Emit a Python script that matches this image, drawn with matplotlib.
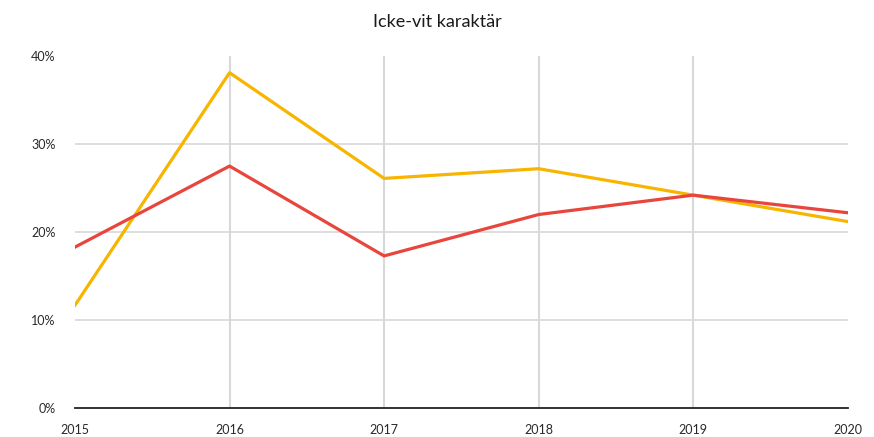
import matplotlib
matplotlib.use("Agg")
import matplotlib.pyplot as plt
from matplotlib.ticker import PercentFormatter

plt.rcParams["font.family"] = ["Lato", "DejaVu Sans"]

YEARS = [2015, 2016, 2017, 2018, 2019, 2020]
YELLOW = [11.7, 38.1, 26.1, 27.2, 24.2, 21.2]
RED = [18.3, 27.5, 17.3, 22.0, 24.2, 22.2]
YTICKS = [0, 10, 20, 30, 40]

fig = plt.figure(figsize=(8.74, 4.37), dpi=100)
ax = fig.add_axes([0.0858, 0.0657, 0.8842, 0.8062])

# grid: horizontal lines at 10/20/30, vertical at inner years
for v in YTICKS[1:-1]:
    ax.axhline(v, color="#d4d4d4", lw=1.1, zorder=1)
for yr in YEARS[1:-1]:
    ax.axvline(yr, color="#d8d8d8", lw=1.5, zorder=1)

ax.plot(YEARS, YELLOW, color="#F7B500", lw=2.3, zorder=3)
ax.plot(YEARS, RED, color="#E8453C", lw=2.3, zorder=4)

ax.set_xlim(YEARS[0], YEARS[-1])
ax.set_ylim(0, 40)
ax.set_xticks(YEARS)
ax.set_yticks(YTICKS)
ax.yaxis.set_major_formatter(PercentFormatter(decimals=0))
ax.tick_params(length=0, labelsize=9, colors="#2a2a2a")
ax.tick_params(axis="y", pad=14)
ax.tick_params(axis="x", pad=11)

for s in ["top", "right", "left"]:
    ax.spines[s].set_visible(False)
ax.spines["bottom"].set_color("#222222")
ax.spines["bottom"].set_linewidth(1.3)
ax.spines["bottom"].set_zorder(5)

fig.text(0.5, 0.95, "Icke-vit karaktär", ha="center", va="center",
         fontsize=13, color="#1a1a1a")

fig.savefig("out.png", dpi=100)
